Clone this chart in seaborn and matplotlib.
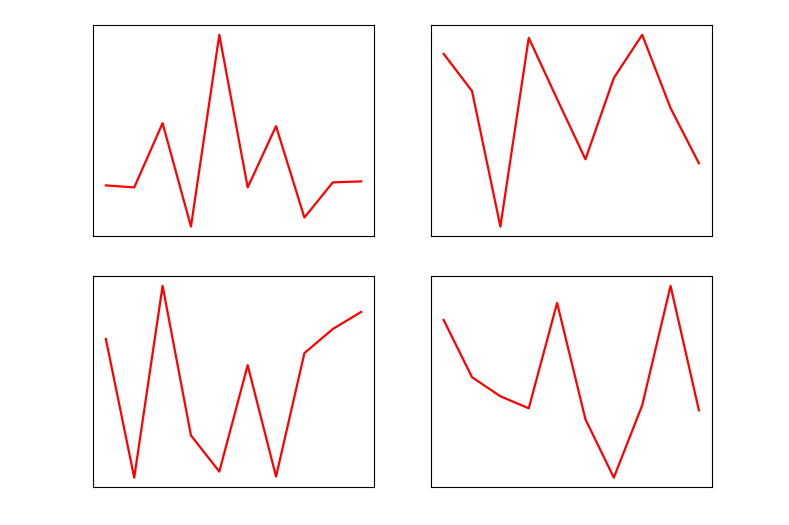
import numpy as np
import pandas as pd
import matplotlib
matplotlib.use("Agg")
import matplotlib.pyplot as plt
import seaborn as sns

x = list(range(10))
top_left = [52, 50, 114, 11, 202, 50, 111, 20, 55, 56]
top_right = [183, 146, 11, 199, 138, 78, 159, 202, 129, 74]
bottom_left = [148, 10, 201, 52, 16, 122, 11, 134, 158, 175]
bottom_right = [167, 110, 91, 79, 184, 68, 10, 82, 201, 77]

series = [top_left, top_right, bottom_left, bottom_right]

fig, axes = plt.subplots(2, 2, figsize=(7.89, 5.25), dpi=100)
fig.subplots_adjust(left=0.118, right=0.902, top=0.952, bottom=0.072,
                    wspace=0.203, hspace=0.19)

for ax, vals in zip(axes.flat, series):
    df = pd.DataFrame({"x": x, "y": vals})
    sns.lineplot(data=df, x="x", y="y", ax=ax, color="red", linewidth=1.6)
    ax.set_xticks([])
    ax.set_yticks([])
    ax.set_xlabel("")
    ax.set_ylabel("")

fig.savefig("out.png", dpi=100)
plt.close(fig)
